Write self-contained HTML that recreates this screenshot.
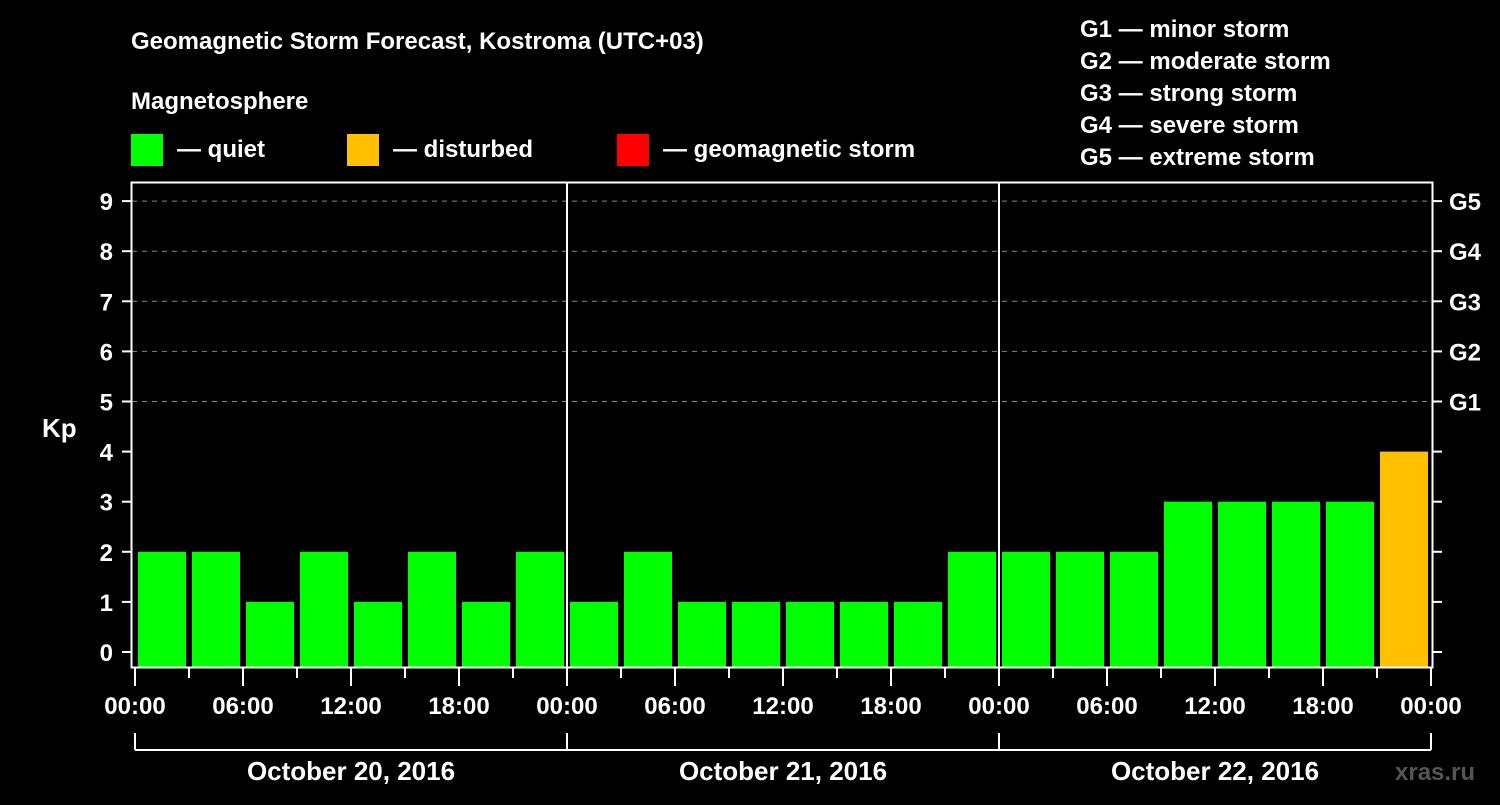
<!DOCTYPE html>
<html><head><meta charset="utf-8"><style>
body{margin:0;background:#000;width:1500px;height:800px;overflow:hidden}
svg text{font-family:"Liberation Sans",Arial,sans-serif;font-weight:bold;fill:#fff}
</style></head><body>
<svg id="chart" width="1500" height="800" xmlns="http://www.w3.org/2000/svg">
<rect width="1500" height="800" fill="#000"/>
<text x="131" y="49" font-size="24">Geomagnetic Storm Forecast, Kostroma (UTC+03)</text>
<text x="131" y="109" font-size="24">Magnetosphere</text>
<rect x="131" y="134" width="32" height="32" fill="#00ff00"/>
<text x="177" y="157" font-size="24">— quiet</text>
<rect x="347" y="134" width="32" height="32" fill="#ffc000"/>
<text x="393" y="157" font-size="24">— disturbed</text>
<rect x="617" y="134" width="32" height="32" fill="#ff0000"/>
<text x="663" y="157" font-size="24">— geomagnetic storm</text>
<g font-size="24">
<text x="1080" y="37">G1 — minor storm</text>
<text x="1080" y="69">G2 — moderate storm</text>
<text x="1080" y="101">G3 — strong storm</text>
<text x="1080" y="133">G4 — severe storm</text>
<text x="1080" y="165">G5 — extreme storm</text>
</g>
<text x="42" y="437" font-size="26">Kp</text>
<text x="1395" y="780" font-size="24" fill="#555" style="fill:#555">xras.ru</text>
<g id="grid"></g><g id="bars"></g><g id="axes"></g>
</svg>
<script>
const kpValues=[2,2,1,2,1,2,1,2, 1,2,1,1,1,1,1,2, 2,2,2,3,3,3,3,4];
const yTicks=[0,1,2,3,4,5,6,7,8,9];
const gLabels=["G1","G2","G3","G4","G5"];
const timeLabels=["00:00","06:00","12:00","18:00"];
const dayLabels=["October 20, 2016","October 21, 2016","October 22, 2016"];
const NS="http://www.w3.org/2000/svg";
const X0=135,DAY=432,Y0=652,UNIT=50.1;
const px=h=>X0+h*DAY/24;
const py=v=>Y0-v*UNIT;
function mk(tag,attrs,parent){const e=document.createElementNS(NS,tag);for(const k in attrs)e.setAttribute(k,attrs[k]);parent.appendChild(e);return e;}
const grid=document.getElementById('grid'),bars=document.getElementById('bars'),axes=document.getElementById('axes');
for(let v=5;v<=9;v++){const l=mk('line',{x1:132,x2:1432,y1:py(v),y2:py(v),stroke:'#888','stroke-dasharray':'5,5','stroke-width':1},grid);

}
kpValues.forEach((v,i)=>{const c=v>=5?'#ff0000':(v>=4?'#ffc000':'#00ff00');
const r=mk('rect',{x:px(i*3)+3,y:py(v),width:48,height:668-py(v),fill:c},bars);

});
// frame
mk('rect',{x:131.5,y:182.5,width:1301,height:485,fill:'none',stroke:'#fff','stroke-width':2},axes);
[1,2].forEach(d=>{const l=mk('line',{x1:px(d*24),x2:px(d*24),y1:182,y2:668,stroke:'#fff','stroke-width':2},axes);

});
yTicks.forEach(v=>{mk('line',{x1:122,x2:131,y1:py(v),y2:py(v),stroke:'#fff','stroke-width':2},axes);
mk('line',{x1:1433,x2:1442,y1:py(v),y2:py(v),stroke:'#fff','stroke-width':2},axes);
const t=mk('text',{x:113,y:py(v)+9,'font-size':24,'text-anchor':'end'},axes);t.textContent=v;

});
gLabels.forEach((g,i)=>{const t=mk('text',{x:1449,y:py(5+i)+9,'font-size':24},axes);t.textContent=g;

});
for(let h=0;h<=72;h+=3){const major=h%6===0;mk('line',{x1:px(h),x2:px(h),y1:668,y2:major?686:678,stroke:'#fff','stroke-width':2},axes);
if(major){const t=mk('text',{x:px(h),y:714,'font-size':24,'text-anchor':'middle'},axes);t.textContent=h===72?"00:00":timeLabels[(h%24)/6];

}}
dayLabels.forEach((d,i)=>{mk('line',{x1:px(i*24),x2:px(i*24),y1:733,y2:750,stroke:'#fff','stroke-width':2},axes);
mk('line',{x1:px(i*24),x2:px(i*24+24),y1:750,y2:750,stroke:'#fff','stroke-width':2},axes);
const t=mk('text',{x:px(i*24+12),y:780,'font-size':26,'text-anchor':'middle'},axes);t.textContent=d;

});
mk('line',{x1:px(72),x2:px(72),y1:733,y2:750,stroke:'#fff','stroke-width':2},axes);
</script>
</body></html>
